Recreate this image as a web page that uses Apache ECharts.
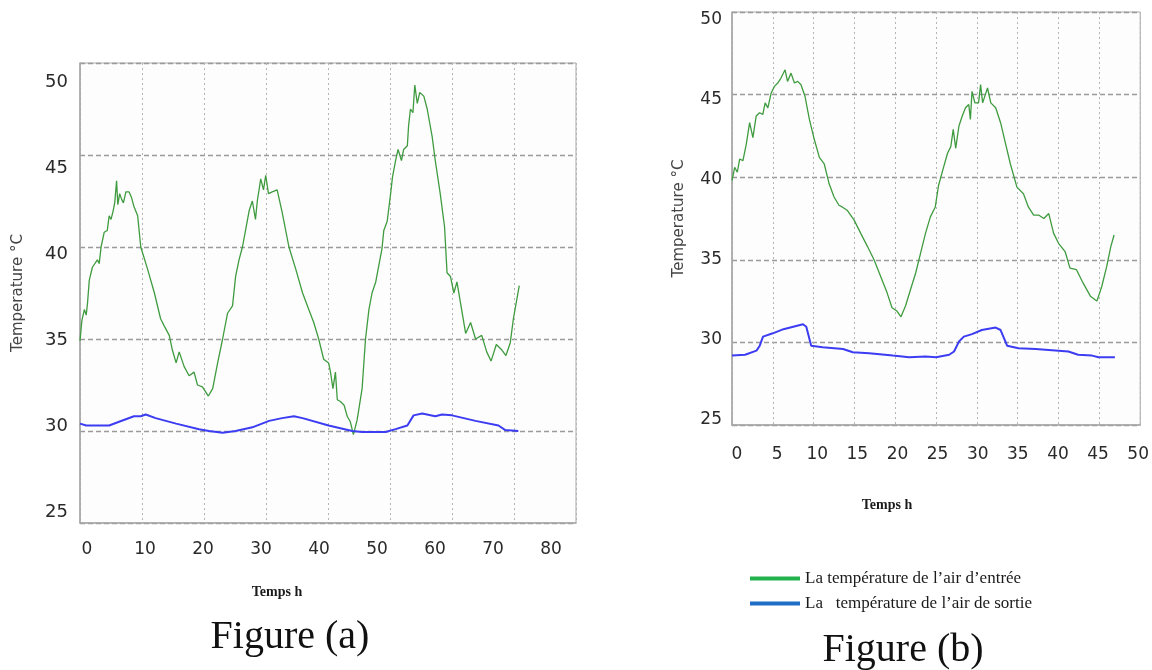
<!DOCTYPE html>
<html>
<head>
<meta charset="utf-8">
<title>Température de l'air d'entrée et de sortie</title>
<script src="https://cdn.jsdelivr.net/npm/echarts@6/dist/echarts.min.js"></script>
<style>
  html, body { margin: 0; padding: 0; background: #ffffff; }
  #chart { width: 1152px; height: 670px; }
</style>
</head>
<body>
<div id="chart"></div>
<script>
// Series names (legend)
const nameInlet = 'La température de l\u2019air d\u2019entrée';
const nameOutlet = 'La   température de l\u2019air de sortie';

// Figure (a): 3-day record (hours, °C)
const aInletHours = [0, 0.3, 0.7, 1.0, 1.2, 1.5, 2.0, 2.8, 3.1, 3.4, 3.9, 4.4, 4.7, 5.0, 5.3, 5.6, 5.9, 6.1, 6.4, 6.7, 7.0, 7.4, 7.9, 8.3, 8.7, 9.3, 9.8, 10.9, 12.0, 13.0, 13.6, 14.4, 14.9, 15.5, 16.0, 16.8, 17.6, 18.4, 18.95, 19.75, 20.7, 21.4, 22.2, 23.0, 23.8, 24.6, 25.1, 25.65, 26.2, 26.7, 27.3, 27.8, 28.3, 28.6, 29.15, 29.6, 29.95, 30.4, 31.0, 31.8, 32.6, 33.7, 34.8, 35.9, 36.9, 37.7, 38.5, 39.3, 40.1, 40.4, 40.8, 41.2, 41.5, 42.0, 42.6, 43.1, 43.6, 44.1, 44.7, 45.5, 46.05, 46.6, 47.1, 47.7, 48.2, 48.7, 49.0, 49.55, 50.1, 50.4, 50.9, 51.3, 51.85, 52.2, 52.8, 53.0, 53.3, 53.7, 54.0, 54.4, 54.8, 55.45, 56.0, 56.8, 57.3, 58.1, 58.8, 59.2, 59.75, 60.3, 60.8, 61.35, 62.2, 63.0, 63.8, 64.8, 65.6, 66.3, 67.15, 68.05, 68.7, 69.4, 69.9, 70.85];
const aInletTemp = [34.9, 36.0, 36.6, 36.3, 36.9, 38.2, 38.9, 39.3, 39.1, 40.0, 40.8, 40.9, 41.7, 41.5, 41.9, 42.4, 43.6, 42.3, 42.9, 42.6, 42.4, 43.0, 43.0, 42.7, 42.2, 41.7, 40.0, 38.8, 37.5, 36.1, 35.7, 35.2, 34.4, 33.7, 34.3, 33.5, 33.0, 33.2, 32.5, 32.4, 31.9, 32.3, 33.7, 35.0, 36.4, 36.8, 38.4, 39.3, 40.0, 40.9, 42.0, 42.5, 41.5, 42.5, 43.7, 43.1, 43.9, 42.9, 43.0, 43.1, 41.9, 40.0, 38.8, 37.5, 36.6, 35.9, 35.0, 33.9, 33.7, 33.2, 32.3, 33.2, 31.7, 31.6, 31.4, 30.8, 30.5, 29.8, 30.6, 32.3, 35.0, 36.6, 37.5, 38.1, 39.0, 39.9, 40.9, 41.4, 42.9, 43.8, 44.7, 45.3, 44.7, 45.3, 45.5, 46.6, 47.5, 47.3, 48.8, 47.8, 48.4, 48.2, 47.5, 46.0, 44.7, 42.9, 41.1, 38.6, 38.4, 37.5, 38.1, 37.0, 35.3, 35.9, 35.0, 35.2, 34.3, 33.8, 34.7, 34.4, 34.1, 34.8, 36.1, 37.9];
const aOutletHours = [0, 1.0, 4.7, 6.3, 8.7, 9.8, 10.6, 12.2, 15.5, 19.2, 20.8, 23.0, 25.1, 27.8, 30.5, 32.6, 34.5, 35.9, 40.1, 43.9, 45.5, 49.3, 50.9, 52.8, 53.8, 55.2, 57.3, 58.4, 60.0, 63.8, 67.5, 68.6, 70.7];
const aOutletTemp = [30.4, 30.3, 30.3, 30.5, 30.8, 30.8, 30.9, 30.7, 30.4, 30.1, 30.0, 29.9, 30.0, 30.2, 30.55, 30.7, 30.8, 30.7, 30.3, 30.0, 29.95, 29.95, 30.1, 30.3, 30.85, 30.95, 30.8, 30.9, 30.85, 30.55, 30.3, 30.05, 30.0];

// Figure (b): 2-day record (hours, °C)
const bInletHours = [0, 0.33, 0.65, 0.94, 1.34, 1.75, 2.16, 2.56, 2.96, 3.37, 3.78, 4.06, 4.39, 4.8, 5.2, 5.6, 6.0, 6.5, 6.8, 7.23, 7.65, 8.05, 8.45, 8.94, 9.48, 10.1, 10.7, 11.3, 11.9, 12.5, 13.1, 13.5, 14.1, 14.96, 15.77, 16.6, 17.4, 18.2, 19.0, 19.6, 20.2, 20.7, 21.25, 21.87, 22.5, 23.1, 23.7, 24.3, 24.9, 25.3, 25.8, 26.4, 26.8, 27.1, 27.4, 27.8, 28.2, 28.6, 29.0, 29.2, 29.4, 29.75, 30.2, 30.45, 30.7, 31.3, 31.7, 32.3, 32.9, 33.5, 34.1, 34.9, 35.7, 36.3, 36.95, 37.6, 38.2, 38.8, 39.4, 40.0, 40.8, 41.4, 42.2, 43.0, 43.9, 44.7, 45.3, 45.9, 46.4, 46.8];
const bInletTemp = [39.8, 40.6, 40.3, 41.1, 41.0, 42.0, 43.3, 42.4, 43.7, 43.9, 43.8, 44.5, 44.2, 45.1, 45.5, 45.7, 46.0, 46.5, 45.8, 46.3, 45.7, 45.8, 45.6, 44.9, 43.5, 42.25, 41.2, 40.8, 39.6, 38.8, 38.3, 38.2, 38.0, 37.4, 36.6, 35.8, 35.0, 34.0, 33.0, 32.1, 31.9, 31.55, 32.2, 33.2, 34.2, 35.4, 36.6, 37.6, 38.2, 39.5, 40.4, 41.45, 41.85, 42.9, 41.75, 43.1, 43.7, 44.2, 44.4, 43.5, 45.2, 44.5, 44.5, 45.6, 44.5, 45.4, 44.5, 44.2, 43.3, 42.05, 40.8, 39.4, 39.0, 38.2, 37.7, 37.7, 37.5, 37.8, 36.6, 36.0, 35.5, 34.5, 34.4, 33.6, 32.8, 32.5, 33.4, 34.6, 35.8, 36.5];
const bOutletHours = [0, 1.6, 3.0, 3.4, 3.8, 5.0, 6.3, 7.5, 8.7, 9.1, 9.7, 11.1, 13.6, 14.8, 16.8, 19.7, 21.7, 23.7, 25.0, 26.6, 27.2, 27.8, 28.4, 29.4, 30.6, 32.3, 32.9, 33.7, 35.1, 37.2, 40.0, 41.2, 42.4, 44.1, 44.9, 46.9];
const bOutletTemp = [29.2, 29.25, 29.5, 29.8, 30.35, 30.55, 30.8, 30.95, 31.1, 30.95, 29.8, 29.7, 29.6, 29.4, 29.35, 29.2, 29.1, 29.15, 29.1, 29.25, 29.45, 30.05, 30.35, 30.5, 30.75, 30.9, 30.75, 29.8, 29.65, 29.6, 29.5, 29.45, 29.25, 29.2, 29.1, 29.1];

// Tick labels
const aHourTicks = [0, 10, 20, 30, 40, 50, 60, 70, 80];
const bHourTicks = [0, 5, 10, 15, 20, 25, 30, 35, 40, 45, 50];
const tempTicks = [25, 30, 35, 40, 45, 50];

const zip = (xs, ys) => xs.map((x, i) => [x, ys[i]]);

const GREEN = '#3f9b3f';
const BLUE = '#3c3cf2';
const tickFont = { fontFamily: 'DejaVu Sans', color: '#2a2a2a' };

const gridStyle = {
  show: true,
  borderColor: '#a6a6a6',
  borderWidth: 1,
  backgroundColor: '#fdfdfd'
};

// Data axes: carry the grid lines; label axes: carry the printed tick labels
function dataX(gridIndex, max, interval) {
  return {
    type: 'value', gridIndex, min: 0, max, interval,
    axisLine: { show: true, onZero: false, lineStyle: { color: '#a6a6a6', width: 1.5 } },
    axisTick: { show: false },
    axisLabel: { show: false },
    splitLine: { show: true, lineStyle: { color: '#b4b4b4', type: [2, 3], width: 1 } }
  };
}
function labelX(gridIndex, min, max, ticks, size, margin) {
  return {
    type: 'value', gridIndex, min, max, position: 'bottom',
    axisLine: { show: false, onZero: false },
    axisTick: { show: false },
    splitLine: { show: false },
    axisLabel: { show: true, customValues: ticks, fontSize: size, margin, ...tickFont }
  };
}
function dataY(gridIndex) {
  return {
    type: 'value', gridIndex, min: 25, max: 50, interval: 5,
    axisLine: { show: true, lineStyle: { color: '#a6a6a6', width: 1.5 } },
    axisTick: { show: false },
    axisLabel: { show: false },
    splitLine: { show: true, lineStyle: { color: '#9a9a9a', type: [5, 3], width: 1.3 } }
  };
}
function labelY(gridIndex, min, max, size, margin, nameGap) {
  return {
    type: 'value', gridIndex, min, max, position: 'left',
    name: 'Temperature °C', nameLocation: 'middle', nameGap, nameRotate: 90,
    nameTextStyle: { fontFamily: 'DejaVu Sans', fontSize: 15, color: '#444' },
    axisLine: { show: false },
    axisTick: { show: false },
    splitLine: { show: false },
    axisLabel: { show: true, customValues: tempTicks, fontSize: size, margin, ...tickFont }
  };
}

const chart = echarts.init(document.getElementById('chart'), null, { renderer: 'canvas' });

chart.setOption({
  animation: false,
  backgroundColor: '#ffffff',
  grid: [
    { left: 80, top: 63, width: 496, height: 460, ...gridStyle },
    { left: 732, top: 12, width: 410, height: 413, ...gridStyle }
  ],
  xAxis: [
    dataX(0, 80, 10),
    labelX(0, -1.21, 84.31, aHourTicks, 17, 18),
    dataX(1, 50, 5),
    labelX(1, -0.62, 50.25, bHourTicks, 17, 21)
  ],
  yAxis: [
    dataY(0),
    labelY(0, 24.39, 51.10, 18, 12, 54),
    dataY(1),
    labelY(1, 24.69, 50.5, 17, 10, 45)
  ],
  legend: {
    left: 745, top: 565, orient: 'vertical', itemGap: 8,
    itemWidth: 50, itemHeight: 4, icon: 'rect',
    selectedMode: false,
    textStyle: { fontFamily: 'Liberation Serif', fontSize: 17, color: '#1a1a1a' },
    data: [
      { name: nameInlet, itemStyle: { color: '#22b14c' } },
      { name: nameOutlet, itemStyle: { color: '#1f6fc8' } }
    ]
  },
  graphic: [
    { type: 'text', x: 277, y: 592, style: { text: 'Temps h', font: 'bold 14px "Liberation Serif"', fill: '#1a1a1a', align: 'center', verticalAlign: 'middle' } },
    { type: 'text', x: 887, y: 505, style: { text: 'Temps h', font: 'bold 14px "Liberation Serif"', fill: '#1a1a1a', align: 'center', verticalAlign: 'middle' } },
    { type: 'text', x: 290, y: 637, style: { text: 'Figure (a)', font: '40px "Liberation Serif"', fill: '#111', align: 'center', verticalAlign: 'middle' } },
    { type: 'text', x: 903, y: 650, style: { text: 'Figure (b)', font: '40px "Liberation Serif"', fill: '#111', align: 'center', verticalAlign: 'middle' } }
  ],
  series: [
    { name: nameInlet, type: 'line', xAxisIndex: 0, yAxisIndex: 0, showSymbol: false, data: zip(aInletHours, aInletTemp), lineStyle: { color: GREEN, width: 1.3 }, itemStyle: { color: GREEN } },
    { name: nameOutlet, type: 'line', xAxisIndex: 0, yAxisIndex: 0, showSymbol: false, data: zip(aOutletHours, aOutletTemp), lineStyle: { color: BLUE, width: 2 }, itemStyle: { color: BLUE } },
    { name: nameInlet, type: 'line', xAxisIndex: 2, yAxisIndex: 2, showSymbol: false, data: zip(bInletHours, bInletTemp), lineStyle: { color: GREEN, width: 1.3 }, itemStyle: { color: GREEN } },
    { name: nameOutlet, type: 'line', xAxisIndex: 2, yAxisIndex: 2, showSymbol: false, data: zip(bOutletHours, bOutletTemp), lineStyle: { color: BLUE, width: 2 }, itemStyle: { color: BLUE } }
  ]
});
</script>
</body>
</html>
